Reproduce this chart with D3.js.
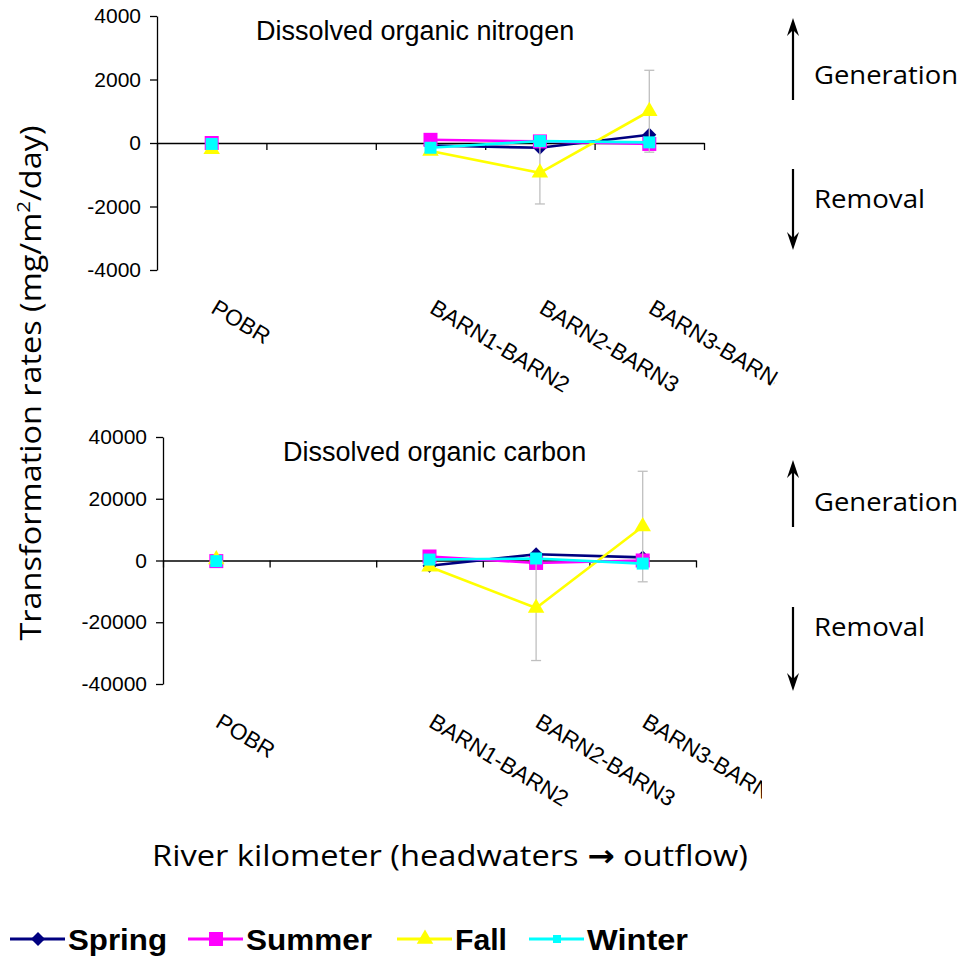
<!DOCTYPE html>
<html>
<head>
<meta charset="utf-8">
<script src="https://cdn.jsdelivr.net/npm/d3@7"></script>
<style>
body { margin: 0; background: #fff; }
svg { display: block; }
</style>
</head>
<body>
<div id="chart"></div>
<script>
var categories = ["POBR", "", "BARN1-BARN2", "BARN2-BARN3", "BARN3-BARN4"];
var seasons = ["Spring", "Summer", "Fall", "Winter"];
var seasonColors = ["#000080", "#ff00ff", "#ffff00", "#00ffff"];

// dissolved organic nitrogen (mg/m2/day)
var donSpring = [0, null, -80, -150, 260];
var donSummer = [0, null, 100, 50, -30];
var donFall = [-200, null, -250, -940, 1000];
var donWinter = [-30, null, -150, 60, 20];
var donFallErr = [0, null, 0, 980, 1290];
var donTicks = [-4000, -2000, 0, 2000, 4000];

// dissolved organic carbon (mg/m2/day)
var docSpring = [-200, null, -1700, 2000, 1000];
var docSummer = [-200, null, 1300, -800, 0];
var docFall = [300, null, -2000, -15400, 11000];
var docWinter = [-200, null, 300, 650, -1000];
var docFallErr = [0, null, 0, 17000, 17900];
var docTicks = [-40000, -20000, 0, 20000, 40000];

var W = 964, H = 961;
var ARIAL = '"Liberation Sans", Arial, sans-serif';
var CALIBRI = '"Open Sans", "Noto Sans", sans-serif';

var svg = d3.select("#chart").append("svg")
  .attr("width", W)
  .attr("height", H);
var defs = svg.append("defs");

function marker(sel, season, size) {
  if (season == "Spring") {
    sel.attr("d", d3.symbol(d3.symbolSquare, size * size / 2)())
      .attr("fill", "#000080");
    return "rotate(45)";
  }
  if (season == "Summer") {
    sel.attr("d", d3.symbol(d3.symbolSquare, size * size)())
      .attr("fill", "#ff00ff");
  } else if (season == "Fall") {
    sel.attr("d", d3.symbol(d3.symbolTriangle, size * size * 0.6)())
      .attr("fill", "#ffff00");
  } else {
    sel.attr("d", d3.symbol(d3.symbolSquare, (size - 2) * (size - 2))())
      .attr("fill", "#00ffff");
  }
  return "";
}

function TransformationChart(svg, box) {
  var _chart = {};
  var _box = box,
    _title,
    _series,
    _errors,
    _ticks;

  _chart.title = function(t) { _title = t; return _chart; };
  _chart.ticks = function(t) { _ticks = t; return _chart; };
  _chart.data = function(series, errors) {
    _series = series;
    _errors = errors;
    return _chart;
  };

  _chart.render = function() {
    var n = categories.length;
    var x = d3.scaleBand().domain(d3.range(n)).range([_box.left, _box.right]);
    var xs = d3.scaleLinear().domain([0, n]).range([_box.left, _box.right]);
    var y = d3.scaleLinear()
      .domain([_ticks[0], _ticks[_ticks.length - 1]])
      .range([_box.bottom, _box.top]);
    var cx = function(i) { return x(i) + x.bandwidth() / 2; };

    var g = svg.append("g");

    // y axis
    var ya = g.append("g")
      .attr("transform", "translate(" + _box.left + ",0)")
      .call(d3.axisLeft(y).tickValues(_ticks).tickSize(7).tickSizeOuter(0)
        .tickPadding(9).tickFormat(function(d) { return String(d); }));
    ya.attr("font-family", ARIAL).attr("font-size", 21);
    ya.selectAll("text").attr("fill", "#000");
    ya.selectAll("line, path").attr("stroke", "#000").attr("stroke-width", 1.3);

    // x axis at zero
    var xa = g.append("g")
      .attr("transform", "translate(0," + y(0) + ")")
      .call(d3.axisBottom(xs).tickValues(d3.range(n + 1)).tickSize(7).tickSizeOuter(0).tickFormat(""));
    xa.selectAll("line, path").attr("stroke", "#000").attr("stroke-width", 1.3);

    // category labels below the plot, cut at the chart edge
    var clipId = "clip-" + _box.top;
    defs.append("clipPath").attr("id", clipId)
      .append("rect").attr("x", 0).attr("y", _box.bottom).attr("width", _box.clipRight).attr("height", 200);
    var labels = g.append("g").attr("clip-path", "url(#" + clipId + ")")
      .selectAll("text").data(categories).enter().append("text")
      .attr("transform", function(d, i) {
        return "translate(" + (cx(i) - 2) + "," + (_box.bottom + 42) + ") rotate(31)";
      })
      .attr("font-family", ARIAL)
      .attr("font-size", 22.5)
      .text(function(d) { return d; });

    // top panel: the last label is cut right after its 10th character
    if (_box.clipChars) {
      var last = labels.filter(function(d, i) { return i == n - 1; });
      var len = last.node().getSubStringLength(0, _box.clipChars);
      var cid = "cut-" + _box.top;
      defs.append("clipPath").attr("id", cid)
        .append("rect").attr("x", -10).attr("y", -40).attr("width", len + 10.5).attr("height", 60);
      last.attr("clip-path", "url(#" + cid + ")");
    }

    // title
    g.append("text")
      .attr("x", _box.titleX).attr("y", _box.top + 24)
      .attr("font-family", ARIAL).attr("font-size", 27)
      .text(_title);

    // series
    var line = d3.line()
      .defined(function(d) { return d != null; })
      .x(function(d, i) { return cx(i); })
      .y(function(d) { return y(d); });

    _series.forEach(function(vals, s) {
      var sg = g.append("g");
      var err = _errors[s];
      if (err) {
        vals.forEach(function(v, i) {
          if (v == null || !err[i]) return;
          var eg = sg.append("g").attr("stroke", "#bfbfbf").attr("stroke-width", 1.3);
          eg.append("line").attr("x1", cx(i)).attr("x2", cx(i))
            .attr("y1", y(v - err[i])).attr("y2", y(v + err[i]));
          [v - err[i], v + err[i]].forEach(function(e) {
            eg.append("line").attr("x1", cx(i) - 5).attr("x2", cx(i) + 5)
              .attr("y1", y(e)).attr("y2", y(e));
          });
        });
      }
      sg.append("path")
        .attr("d", line(vals))
        .attr("fill", "none")
        .attr("stroke", seasonColors[s])
        .attr("stroke-width", 2.6);
      vals.forEach(function(v, i) {
        if (v == null) return;
        var p = sg.append("path");
        var rot = marker(p, seasons[s], 14);
        p.attr("transform", "translate(" + cx(i) + "," + y(v) + ") " + rot);
      });
    });

    // generation / removal notes
    arrow(g, 793, _box.upTip, _box.upTail);
    arrow(g, 793, _box.downTip, _box.downTail);
    g.append("text").attr("x", 814).attr("y", _box.genY)
      .attr("font-family", CALIBRI).attr("font-size", 26)
      .attr("textLength", 144).attr("lengthAdjust", "spacingAndGlyphs")
      .text("Generation");
    g.append("text").attr("x", 814).attr("y", _box.remY)
      .attr("font-family", CALIBRI).attr("font-size", 26)
      .attr("textLength", 111).attr("lengthAdjust", "spacingAndGlyphs")
      .text("Removal");

    return _chart;
  };

  function arrow(g, x, tip, tail) {
    var dir = tail > tip ? 1 : -1;
    g.append("line").attr("x1", x).attr("x2", x)
      .attr("y1", tip + dir * 8).attr("y2", tail)
      .attr("stroke", "#000").attr("stroke-width", 2.2);
    g.append("path")
      .attr("d", "M" + x + "," + tip +
        "L" + (x - 6) + "," + (tip + dir * 18) +
        "L" + x + "," + (tip + dir * 12) +
        "L" + (x + 6) + "," + (tip + dir * 18) + "Z")
      .attr("fill", "#000");
  }

  return _chart;
}

TransformationChart(svg, {
  left: 157, right: 704, top: 16, bottom: 270, clipRight: 964, clipChars: 10, titleX: 256,
  upTip: 18, upTail: 100, downTip: 250, downTail: 169, genY: 84, remY: 208
})
  .title("Dissolved organic nitrogen")
  .ticks(donTicks)
  .data([donSpring, donSummer, donFall, donWinter], [null, null, donFallErr, null])
  .render();

TransformationChart(svg, {
  left: 163, right: 696, top: 437, bottom: 684, clipRight: 762, titleX: 283,
  upTip: 460, upTail: 527, downTip: 691, downTail: 607, genY: 511, remY: 636
})
  .title("Dissolved organic carbon")
  .ticks(docTicks)
  .data([docSpring, docSummer, docFall, docWinter], [null, null, docFallErr, null])
  .render();

// axis titles
var yt = svg.append("text")
  .attr("transform", "translate(41,383) rotate(-90)")
  .attr("text-anchor", "middle")
  .attr("font-family", CALIBRI)
  .attr("font-size", 30)
  .attr("textLength", 515)
  .attr("lengthAdjust", "spacingAndGlyphs");
yt.append("tspan").text("Transformation rates (mg/m");
yt.append("tspan").attr("font-size", 19).attr("dy", -11).text("2");
yt.append("tspan").attr("dy", 11).text("/day)");

var xt = svg.append("text")
  .attr("x", 152).attr("y", 866)
  .attr("font-family", CALIBRI)
  .attr("font-size", 30)
  .attr("textLength", 596)
  .attr("lengthAdjust", "spacingAndGlyphs");
xt.append("tspan").text("River kilometer (headwaters ");
xt.append("tspan").attr("font-family", '"DejaVu Sans", sans-serif').attr("font-weight", "bold").text("\u2192");
xt.append("tspan").text(" outflow)");

// legend
var legendX = [10, 188, 397, 529];
var legendW = [99, 126, 52, 101];
var lg = svg.append("g");
seasons.forEach(function(s, i) {
  var x0 = legendX[i];
  lg.append("line").attr("x1", x0).attr("x2", x0 + 55)
    .attr("y1", 939).attr("y2", 939)
    .attr("stroke", seasonColors[i]).attr("stroke-width", 3);
  var p = lg.append("path");
  var rot = marker(p, s, s == "Winter" ? 10 : 14);
  p.attr("transform", "translate(" + (x0 + 28) + ",939) " + rot);
  lg.append("text").attr("x", x0 + 58).attr("y", 950)
    .attr("font-family", ARIAL).attr("font-weight", "bold").attr("font-size", 30)
    .attr("textLength", legendW[i]).attr("lengthAdjust", "spacingAndGlyphs")
    .text(s);
});
</script>
</body>
</html>
